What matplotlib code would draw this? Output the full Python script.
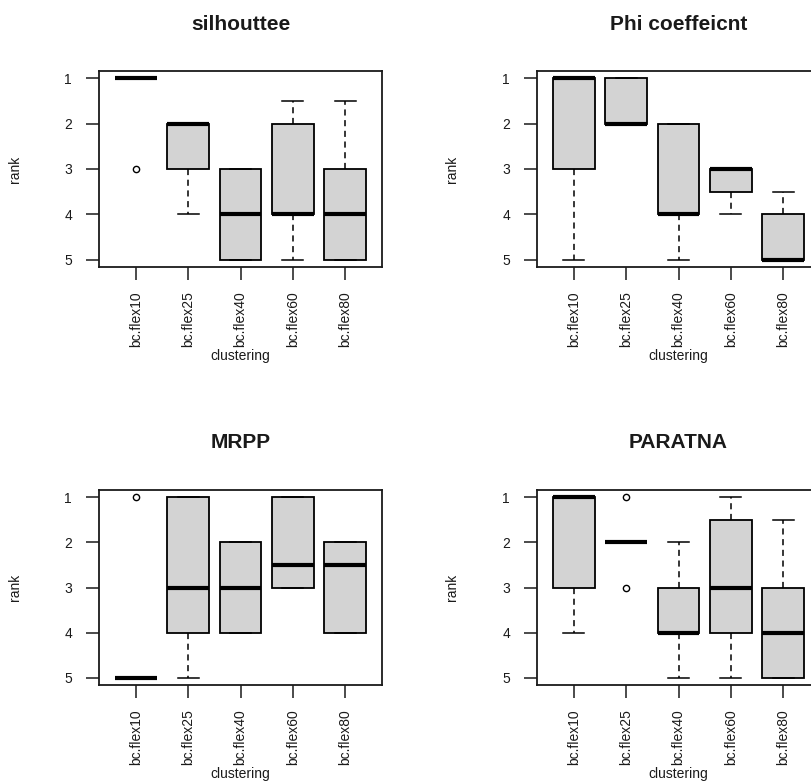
import matplotlib
matplotlib.use("Agg")
import matplotlib.pyplot as plt

plt.rcParams['font.family'] = ['Liberation Sans', 'DejaVu Sans']

categories = ["bc.flex10", "bc.flex25", "bc.flex40", "bc.flex60", "bc.flex80"]
yticks = [1, 2, 3, 4, 5]

titles = ["silhouttee", "Phi coeffeicnt", "MRPP", "PARATNA"]

# per panel: whisker low (top), q1, median, q3, whisker high (bottom), outliers
sil_whislo = [1, 2, 3, 1.5, 1.5]
sil_q1 = [1, 2, 3, 2, 3]
sil_med = [1, 2, 4, 4, 4]
sil_q3 = [1, 3, 5, 4, 5]
sil_whishi = [1, 4, 5, 5, 5]
sil_fliers = [[3], [], [], [], []]

phi_whislo = [1, 1, 2, 3, 3.5]
phi_q1 = [1, 1, 2, 3, 4]
phi_med = [1, 2, 4, 3, 5]
phi_q3 = [3, 2, 4, 3.5, 5]
phi_whishi = [5, 2, 5, 4, 5]
phi_fliers = [[], [], [], [], []]

mrpp_whislo = [5, 1, 2, 1, 2]
mrpp_q1 = [5, 1, 2, 1, 2]
mrpp_med = [5, 3, 3, 2.5, 2.5]
mrpp_q3 = [5, 4, 4, 3, 4]
mrpp_whishi = [5, 5, 4, 3, 4]
mrpp_fliers = [[1], [], [], [], []]

par_whislo = [1, 2, 2, 1, 1.5]
par_q1 = [1, 2, 3, 1.5, 3]
par_med = [1, 2, 4, 3, 4]
par_q3 = [3, 2, 4, 4, 5]
par_whishi = [4, 2, 5, 5, 5]
par_fliers = [[], [1, 3], [], [], []]

panels = [
    (sil_whislo, sil_q1, sil_med, sil_q3, sil_whishi, sil_fliers),
    (phi_whislo, phi_q1, phi_med, phi_q3, phi_whishi, phi_fliers),
    (mrpp_whislo, mrpp_q1, mrpp_med, mrpp_q3, mrpp_whishi, mrpp_fliers),
    (par_whislo, par_q1, par_med, par_q3, par_whishi, par_fliers),
]

W, H = 811, 782
fig = plt.figure(figsize=(W / 100, H / 100), dpi=100)

# pixel boxes: (left, top, right, bottom)
boxes_px = [
    (99, 71, 382, 267),
    (537, 71, 820, 267),
    (99, 490, 382, 685),
    (537, 490, 820, 685),
]
title_y = [25, 25, 443, 443]
label_y = [356, 356, 774, 774]
rank_x = [15, 452, 15, 452]

for i, (stats_src, (l, t, r, b)) in enumerate(zip(panels, boxes_px)):
    ax = fig.add_axes([l / W, 1 - b / H, (r - l) / W, (b - t) / H])
    wlo, q1, med, q3, whi, fl = stats_src
    stats = []
    for k in range(len(categories)):
        stats.append(dict(whislo=wlo[k], q1=q1[k], med=med[k], q3=q3[k],
                          whishi=whi[k], fliers=fl[k]))
    ax.bxp(stats, positions=range(1, len(categories) + 1), widths=0.8,
           patch_artist=True, showfliers=True,
           boxprops=dict(facecolor='#D3D3D3', edgecolor='black', linewidth=1.3),
           medianprops=dict(color='black', linewidth=3.0, solid_capstyle='butt'),
           whiskerprops=dict(color='black', linewidth=1.1, linestyle=(0, (4, 3))),
           capprops=dict(color='black', linewidth=1.1),
           flierprops=dict(marker='o', markerfacecolor='none', markeredgecolor='black',
                           markersize=4.5, markeredgewidth=1.0))
    ax.set_xlim(0.3, 5.7)
    ax.set_ylim(5.16, 0.84)
    ax.set_yticks(yticks)
    ax.set_yticklabels([str(v) for v in yticks], fontsize=10, color='#1a1a1a')
    ax.set_xticks(range(1, len(categories) + 1))
    ax.set_xticklabels(categories, rotation=90, fontsize=10, color='#1a1a1a')
    ax.tick_params(axis='both', length=9.5, width=1.1, color='#1a1a1a')
    ax.tick_params(axis='x', pad=8)
    ax.tick_params(axis='y', pad=10)
    for s in ax.spines.values():
        s.set_linewidth(1.3)
        s.set_color('#1a1a1a')
    cx = (l + r) / 2
    fig.text(cx / W, 1 - title_y[i] / H, titles[i], ha='center', va='center',
             fontsize=15, fontweight='bold', color='#1a1a1a')
    fig.text(cx / W, 1 - label_y[i] / H, "clustering", ha='center', va='center',
             fontsize=10, color='#1a1a1a')
    fig.text(rank_x[i] / W, 1 - ((t + b) / 2) / H, "rank", ha='center', va='center',
             rotation=90, fontsize=10, color='#1a1a1a')

fig.savefig("out.png", dpi=100)
